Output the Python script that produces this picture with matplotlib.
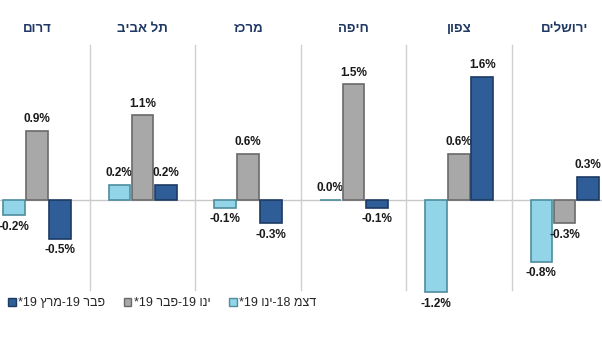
import matplotlib
matplotlib.use("Agg")
from matplotlib import pyplot as plt
from matplotlib.patches import Patch
import numpy as np

# regions, left to right as drawn (logical Hebrew, reversed for display)
regions = ["דרום", "תל אביב", "מרכז", "חיפה", "צפון", "ירושלים"]

# monthly change in %, per period
dec_jan = [-0.2, 0.2, -0.1, 0.0, -1.2, -0.8]
jan_feb = [0.9, 1.1, 0.6, 1.5, 0.6, -0.3]
feb_mar = [-0.5, 0.2, -0.3, -0.1, 1.6, 0.3]

# legend labels, already in visual (left-to-right) order
legend_labels = ["*19 ץרמ-19 רבפ", "*19 רבפ-19 וני", "*19 וני-18 מצד"]

colors = ["#92D5E8", "#A8A8A8", "#2F5D97"]
edges = ["#4F8C9E", "#6A6A6A", "#1C3B63"]

plt.rcParams["font.family"] = ["Liberation Sans", "DejaVu Sans"]

fig = plt.figure(figsize=(6.02, 3.4), dpi=100)
ax = fig.add_axes([0, 0, 1, 1])
ax.set_xlim(-0.351, 5.355)
ax.set_ylim(-1.818, 2.597)
ax.axis("off")

x = np.arange(len(regions))
series = [dec_jan, jan_feb, feb_mar]
offsets = [-0.22, 0.0, 0.22]

ax.axhline(0, color="#C8C8C8", lw=1, zorder=1)
for i in range(len(regions) - 1):
    ax.plot([i + 0.5, i + 0.5], [-1.169, 2.013], color="#D0D0D0", lw=1, zorder=1)

for s, vals in enumerate(series):
    ax.bar(x + offsets[s], vals, width=0.205, color=colors[s],
           edgecolor=edges[s], linewidth=1.2, zorder=3)
    for xi, v in zip(x + offsets[s], vals):
        if v >= 0:
            ax.annotate(f"{v:.1f}%", (xi, v), xytext=(0, 4), textcoords="offset points",
                        ha="center", va="bottom", fontsize=8.5, fontweight="bold", color="#1A1A1A")
        else:
            ax.annotate(f"{v:.1f}%", (xi, v), xytext=(0, -4), textcoords="offset points",
                        ha="center", va="top", fontsize=8.5, fontweight="bold", color="#1A1A1A")

for i, name in enumerate(regions):
    ax.text(i, 2.22, name[::-1], ha="center", va="center", fontsize=9.5,
            fontweight="bold", color="#1F3864")

handles = [Patch(facecolor=colors[k], edgecolor=edges[k]) for k in [2, 1, 0]]
fig.legend(handles, legend_labels, loc="center left", bbox_to_anchor=(-0.005, 0.108),
           ncol=3, frameon=False, fontsize=9, handlelength=0.6, handleheight=0.6,
           handletextpad=0.2, columnspacing=1.5, labelcolor="#262626")

fig.savefig("out.png", dpi=100)
